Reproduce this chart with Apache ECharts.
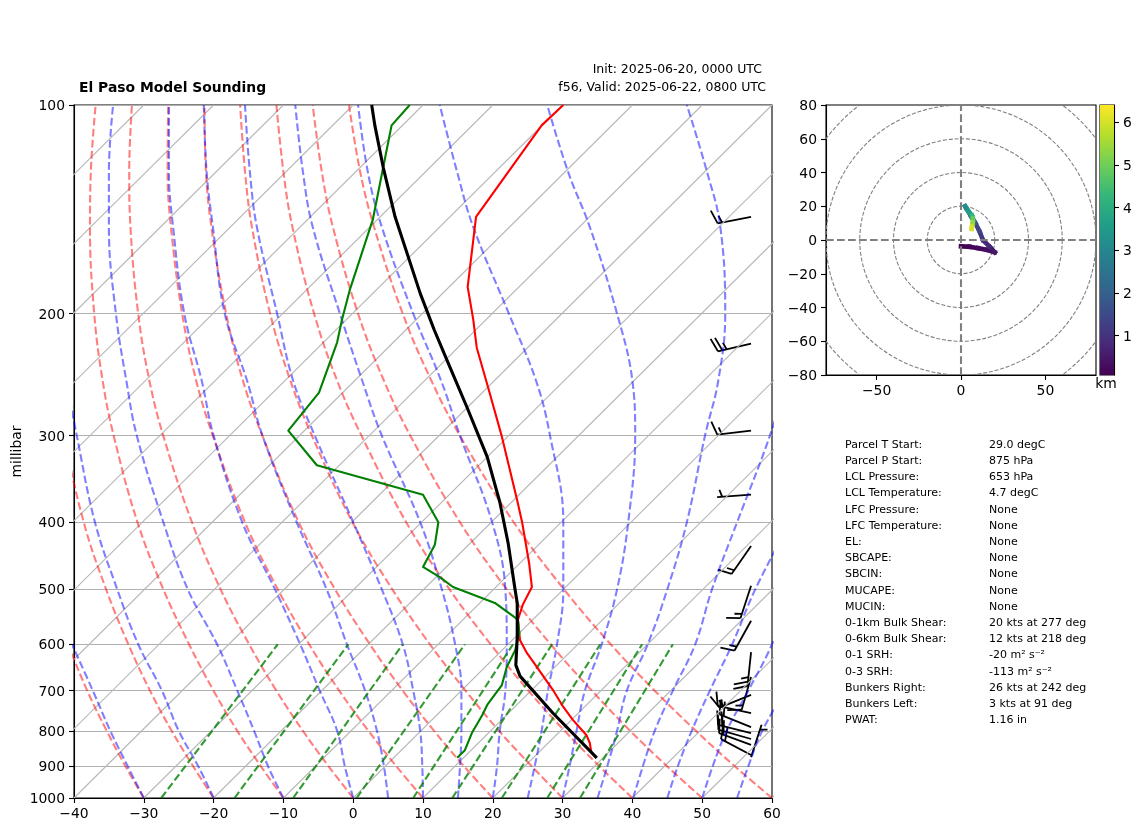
<!DOCTYPE html>
<html style="height: 100%">

<head>
  <meta charset="UTF-8" />
  <title>El Paso Model Sounding</title>
  <script src="https://cdn.jsdelivr.net/npm/echarts@6/dist/echarts.min.js"></script>
</head>

<body style="height: 100%; margin: 0; background: #fff">
  <div id="main" style="width: 1142px; height: 832px"></div>
  <script>
    const pressureTicks = [100, 200, 300, 400, 500, 600, 700, 800, 900, 1000];
    const levels = [1000, 900, 800, 700, 600, 500, 400, 300, 250, 200, 150, 125, 100];

    // isotherms, degC at 1000 hPa
    const isotherms = [-130, -120, -110, -100, -90, -80, -70, -60, -50, -40, -30, -20, -10, 0, 10, 20, 30, 40, 50, 60];

    // dry adiabats, temperature at each of levels (degC)
    const dryM30 = [-30, -37.2, -45, -53.6, -63, -73.7, -86, -100.8, -109.6, -119.6, -131.7, -139, -147.2];
    const dryM20 = [-20, -27.5, -35.7, -44.6, -54.4, -65.5, -78.4, -93.7, -102.9, -113.3, -125.9, -133.4, -142.1];
    const dryM10 = [-10, -17.8, -26.3, -35.5, -45.7, -57.3, -70.7, -86.6, -96.1, -107, -120.1, -127.9, -136.9];
    const dry0 = [0, -8.1, -16.9, -26.5, -37.1, -49.1, -62.9, -79.5, -89.4, -100.7, -114.3, -122.4, -131.7];
    const dry10 = [10, 1.6, -7.5, -17.5, -28.5, -40.9, -55.3, -72.4, -82.7, -94.4, -108.5, -116.9, -126.5];
    const dry20 = [20, 11.3, 1.9, -8.4, -19.8, -32.7, -47.6, -65.3, -76, -88.1, -102.7, -111.4, -121.3];
    const dry30 = [30, 21, 11.2, 0.6, -11.2, -24.5, -39.9, -58.2, -69.2, -81.8, -96.9, -105.8, -116.2];
    const dry40 = [40, 30.7, 20.6, 9.6, -2.5, -16.3, -32.2, -51.1, -62.5, -75.5, -91.1, -100.3, -111];
    const dry50 = [50, 40.4, 30, 18.7, 6.1, -8.1, -24.5, -44.1, -55.8, -69.2, -85.3, -94.8, -105.8];
    const dry60 = [60, 50.1, 39.4, 27.7, 14.7, 0.1, -16.8, -37, -49, -62.8, -79.4, -89.3, -100.6];
    const dryAdiabats = [dryM30, dryM20, dryM10, dry0, dry10, dry20, dry30, dry40, dry50, dry60];

    // moist adiabats, as read on the bottom axis at each of levels
    const moistM30 = [-30, -32.3, -34.8, -37.3, -40.3];
    const moistM20 = [-20, -22.2, -25, -27.4, -30.8, -33.8, -37, -39.6, -41.1];
    const moistM10 = [-10, -12.2, -14.2, -16.6, -19.5, -23.7, -27.2, -31, -32.5, -34, -35, -35, -34.4];
    const moist0 = [0, -1.2, -2.3, -4.8, -7.6, -11.2, -15.9, -20, -21.7, -24.2, -25.8, -26.4, -26.4];
    const moist5 = [5, 4.4, 3.4, 1.7, -0.9, -3.8, -8.1, -13, -15.2, -18.4, -20.1, -21, -21.4];
    const moist10 = [10, 9.9, 9.6, 8.6, 7.1, 4.1, 0, -5.5, -8.6, -10.9, -13.8, -14.8, -15.5];
    const moist15 = [15, 15.3, 15.5, 15.5, 14.6, 12.7, 9.6, 4.1, 1.3, -1.9, -5.8, -7.2, -8.3];
    const moist20 = [20, 20.6, 21, 21.8, 22, 21.8, 19.9, 15.3, 12.6, 8.6, 4.1, 2.1, 0.7];
    const moist25 = [25, 26, 27, 27.9, 29.2, 30.1, 30.1, 28.2, 26.2, 22.3, 17.2, 14.9, 12.4];
    const moist30 = [30, 31, 32, 33.2, 35.6, 37.8, 39.4, 40.4, 40, 37.8, 33.9, 30.8, 27.8];
    const moist35 = [35, 36.4, 37.8, 39.2, 42.2, 45, 47.8, 50.4, 52.3, 53.3, 52.6, 50.7, 47.8];
    const moist40 = [40.1, 41.5, 43.2, 45.8, 49, 51.4, 55, 59.7, 62];
    const moist45 = [45, 46.5, 48.5, 51.1, 54.3, 57.6, 62.6];
    const moist50 = [50, 51.5, 53.5, 56.6, 60, 63];
    const moist55 = [55, 56.6, 58.6, 61.9];
    const moistAdiabats = [moistM30, moistM20, moistM10, moist0, moist5, moist10, moist15, moist20, moist25, moist30, moist35, moist40, moist45, moist50, moist55];

    // mixing ratio lines, bottom axis reading at 1000 and 600 hPa
    const mixingBottom = [-27.5, -17, -8.6, 0.5, 8.6, 14.2, 21.3, 27.8, 32.5];
    const mixingTop = [-10.8, -0.7, 7.1, 16, 22.9, 28.5, 35.4, 41.4, 45.8];

    // sounding profiles, bottom axis reading against pressure
    const tempP = [100, 107, 145, 183, 204, 224, 255, 301, 372, 400, 458, 496, 526, 553, 592, 618, 647, 698, 739, 772, 811, 833, 858, 875];
    const tempX = [30.1, 27, 17.6, 16.4, 17.2, 17.7, 19.3, 21.3, 23.5, 24.2, 25.2, 25.6, 24.3, 23.6, 23.9, 24.9, 26.3, 28.6, 30.1, 31.5, 33.4, 33.9, 34.1, 34.8];
    const dewP = [100, 107, 123, 146.5, 185, 204, 220, 260, 295, 331, 365, 400, 431, 464, 480, 496, 523, 553, 578, 612, 647, 687, 734, 759, 806, 853, 875];
    const dewX = [8.1, 5.5, 4.3, 2.8, -0.5, -1.6, -2.3, -4.9, -9.3, -5.2, 10, 12.2, 11.7, 10, 12.4, 14.3, 20.3, 23.6, 23.8, 23.2, 22, 21.3, 19.2, 18.5, 17, 16, 14.9];
    const parcelP = [100, 107, 123, 145, 187, 211, 233, 273, 322, 374, 429, 501, 523, 586, 643, 667, 754, 875];
    const parcelX = [2.65, 3.1, 4.3, 6, 9.6, 11.6, 13.4, 16.3, 19.2, 21, 22.2, 23.2, 23.5, 23.5, 23.3, 23.9, 28.6, 34.9];

    // wind barbs
    const barbP = [145, 221, 295, 365, 433, 494, 555, 616, 669, 710, 754, 790, 806, 822, 838, 867, 873];
    const barbSpeed = [15, 25, 15, 5, 15, 15, 15, 25, 15, 15, 15, 20, 20, 20, 20, 20, 5];
    const barbDir = [259, 257, 263, 266, 215, 198, 209, 186, 196, 248, 282, 292, 284, 286, 290, 298, 18];

    // hodograph
    const hodoU = [0, 5, 10, 15, 20, 17, 13, 11, 8.5, 6, 3, 2.5, 4.5, 6.5, 7, 7, 6.5, 6.3];
    const hodoV = [-3.7, -4, -4.8, -5.8, -7.3, -4, 0, 5, 10, 14, 19, 20, 17, 14.5, 13, 10.5, 8, 6.5];
    const hodoH = [0.08, 0.15, 0.25, 0.35, 0.5, 0.8, 1.1, 1.4, 1.8, 2.3, 2.9, 3.2, 3.6, 4.2, 4.8, 5.4, 6, 6.4];
    const hodoRings = [20, 40, 60, 80, 100];
    const heightTicks = [1, 2, 3, 4, 5, 6];

    const paramNames = ['Parcel T Start:', 'Parcel P Start:', 'LCL Pressure:', 'LCL Temperature:', 'LFC Pressure:', 'LFC Temperature:', 'EL:', 'SBCAPE:', 'SBCIN:', 'MUCAPE:', 'MUCIN:', '0-1km Bulk Shear:', '0-6km Bulk Shear:', '0-1 SRH:', '0-3 SRH:', 'Bunkers Right:', 'Bunkers Left:', 'PWAT:'];
    const paramValues = ['29.0 degC', '875 hPa', '653 hPa', '4.7 degC', 'None', 'None', 'None', 'None', 'None', 'None', 'None', '20 kts at 277 deg', '12 kts at 218 deg', '-20 m\u00b2 s\u207b\u00b2', '-113 m\u00b2 s\u207b\u00b2', '26 kts at 242 deg', '3 kts at 91 deg', '1.16 in'];

    const viridis = ['#440154', '#482878', '#3e4989', '#31688e', '#26828e', '#1f9e89', '#35b779', '#6ece58', '#b5de2b', '#fde725'];
    const font = 'DejaVu Sans';
    const dash = [7.7, 3.3];
    const chart = echarts.init(document.getElementById('main'));

    const skewX = (t, p) => t + 100 * Math.log10(1000 / p);

    function backgroundLine(data, color, width, type, smooth) {
      return {
        type: 'line', data, xAxisIndex: 0, yAxisIndex: 0, showSymbol: false, silent: true,
        smooth: smooth ? 0.4 : false,
        lineStyle: { color, width, type, cap: 'butt' }
      };
    }

    function profile(xs, ps, color, width) {
      return {
        type: 'line', data: xs.map((x, i) => [x, ps[i]]), xAxisIndex: 0, yAxisIndex: 0,
        showSymbol: false, silent: true, lineStyle: { color, width, join: 'round' }
      };
    }

    // shaft runs from the tip at the level, feathers sit on the far end
    function renderBarb(params, api) {
      const tip = api.coord([api.value(0), api.value(1)]);
      const speed = api.value(2);
      const dir = api.value(3) * Math.PI / 180;
      const len = 34;
      const sx = Math.sin(dir), sy = -Math.cos(dir);
      const nx = -sy, ny = sx;
      const end = [tip[0] + sx * len, tip[1] + sy * len];
      const style = { stroke: '#000', fill: 'none', lineWidth: 1.8 };
      const children = [{ type: 'polyline', shape: { points: [tip, end] }, style }];
      let full = Math.floor(speed / 10);
      let half = speed % 10 >= 5 ? 1 : 0;
      let along = full === 0 ? 5 : 0;
      const feather = (size) => {
        const bx = end[0] - sx * along, by = end[1] - sy * along;
        children.push({
          type: 'polyline',
          shape: { points: [[bx, by], [bx + (0.95 * nx + 0.3 * sx) * size, by + (0.95 * ny + 0.3 * sy) * size]] },
          style
        });
        along += 4.5;
      };
      for (let i = 0; i < full; i++) feather(14.5);
      if (half) feather(7.5);
      return { type: 'group', children };
    }

    function renderRing(params, api) {
      const c = api.coord([0, 0]);
      return {
        type: 'circle',
        shape: { cx: c[0], cy: c[1], r: api.size([api.value(2), 0])[0] },
        style: { stroke: '#808080', fill: 'none', lineWidth: 1.1, lineDash: [4, 1.8] }
      };
    }

    function renderHodo(params, api) {
      const i = params.dataIndex;
      if (i >= hodoU.length - 1) return null;
      const a = api.coord([hodoU[i], hodoV[i]]);
      const b = api.coord([hodoU[i + 1], hodoV[i + 1]]);
      return {
        type: 'line',
        shape: { x1: a[0], y1: a[1], x2: b[0], y2: b[1] },
        style: { stroke: api.visual('color'), lineWidth: 4.6, lineCap: 'square' }
      };
    }

    function renderColorbar(params, api) {
      const a = api.coord([0, 6.4]);
      const b = api.coord([1, 0.08]);
      const stops = viridis.map((color, i) => ({ offset: 1 - i / (viridis.length - 1), color }));
      return {
        type: 'rect',
        shape: { x: a[0], y: a[1], width: b[0] - a[0], height: b[1] - a[1] },
        style: { fill: new echarts.graphic.LinearGradient(0, 0, 0, 1, stops.reverse()) }
      };
    }

    const series = [];
    isotherms.forEach((t) => {
      series.push(backgroundLine([[skewX(t, 1000), 1000], [skewX(t, 100), 100]], '#b8b8b8', 1.1, 'solid', false));
    });
    dryAdiabats.forEach((line) => {
      series.push(backgroundLine(line.map((t, i) => [skewX(t, levels[i]), levels[i]]), 'rgba(255,0,0,0.5)', 2.1, dash, true));
    });
    moistAdiabats.forEach((line) => {
      series.push(backgroundLine(line.map((x, i) => [x, levels[i]]), 'rgba(0,0,255,0.5)', 2.1, dash, true));
    });
    mixingBottom.forEach((x, i) => {
      series.push(backgroundLine([[x, 1000], [mixingTop[i], 600]], 'rgba(0,128,0,0.8)', 2.1, dash, false));
    });
    series.push(profile(tempX, tempP, '#ff0000', 2.1));
    series.push(profile(dewX, dewP, '#008000', 2.1));
    series.push(profile(parcelX, parcelP, '#000000', 3.1));
    series.push({
      type: 'custom', xAxisIndex: 0, yAxisIndex: 0, silent: true, clip: false, renderItem: renderBarb,
      encode: { x: 0, y: 1 },
      data: barbP.map((p, i) => [57, p, barbSpeed[i], barbDir[i]])
    });
    series.push({
      type: 'custom', xAxisIndex: 1, yAxisIndex: 1, silent: true, clip: true, renderItem: renderRing,
      encode: { x: 0, y: 1 },
      data: hodoRings.map((r) => [0, 0, r])
    });
    [[[-80, 0], [80, 0]], [[0, -80], [0, 80]]].forEach((data) => {
      series.push({
        type: 'line', data, xAxisIndex: 1, yAxisIndex: 1, showSymbol: false, silent: true,
        lineStyle: { color: '#808080', width: 2.1, type: dash }
      });
    });
    const hodoSeries = series.length;
    series.push({
      type: 'custom', xAxisIndex: 1, yAxisIndex: 1, silent: true, renderItem: renderHodo,
      encode: { x: 0, y: 1 },
      data: hodoU.map((u, i) => [u, hodoV[i], hodoH[i]])
    });
    series.push({
      type: 'custom', xAxisIndex: 2, yAxisIndex: 2, silent: true, renderItem: renderColorbar,
      encode: { x: 0, y: 1 }, data: [[0, 0.08]]
    });

    const axisText = { color: '#000', fontFamily: font, fontSize: 13.9 };
    const blackLine = { show: true, onZero: false, lineStyle: { color: '#000', width: 1.1 } };
    const blackTick = { show: true, length: 5, lineStyle: { color: '#000', width: 1.1 } };
    const minusSign = (v) => String(v).replace('-', '\u2212');
    // y tick labels sit a little below the tick, as in the reference
    const yLabel = { ...axisText, margin: 9, verticalAlign: 'top', padding: [-5.5, 0, 0, 0] };

    const texts = [];
    paramNames.forEach((name, i) => {
      const y = 445 + i * 16.2;
      texts.push({ type: 'text', silent: true, style: { x: 845, y, text: name, fill: '#000', font: '11px "' + font + '"', textVerticalAlign: 'middle' } });
      texts.push({ type: 'text', silent: true, style: { x: 989, y, text: paramValues[i], fill: '#000', font: '11px "' + font + '"', textVerticalAlign: 'middle' } });
    });
    texts.push({ type: 'text', silent: true, style: { x: 79, y: 88, text: 'El Paso Model Sounding', fill: '#000', font: 'bold 13.9px "' + font + '"', textVerticalAlign: 'middle' } });
    texts.push({ type: 'text', silent: true, style: { x: 762, y: 70, text: 'Init: 2025-06-20, 0000 UTC', fill: '#000', font: '12.5px "' + font + '"', textAlign: 'right', textVerticalAlign: 'middle' } });
    texts.push({ type: 'text', silent: true, style: { x: 766, y: 87.5, text: 'f56, Valid: 2025-06-22, 0800 UTC', fill: '#000', font: '12.5px "' + font + '"', textAlign: 'right', textVerticalAlign: 'middle' } });
    texts.push({ type: 'text', silent: true, style: { x: 1106, y: 384, text: 'km', fill: '#000', font: '13.9px "' + font + '"', textAlign: 'center', textVerticalAlign: 'middle' } });

    const gridBase = { show: true, borderColor: '#000', borderWidth: 1.1, backgroundColor: 'transparent', outerBoundsMode: 'none' };

    const option = {
      animation: false,
      backgroundColor: '#fff',
      textStyle: { fontFamily: font },
      grid: [
        { ...gridBase, left: 74, top: 105, width: 698, height: 693 },
        { ...gridBase, left: 826, top: 105, width: 270, height: 270 },
        { ...gridBase, left: 1100, top: 105, width: 14, height: 270 }
      ],
      xAxis: [
        {
          type: 'value', gridIndex: 0, min: -40, max: 60, interval: 10, splitLine: { show: false },
          axisLine: blackLine, axisTick: blackTick,
          axisLabel: { ...axisText, margin: 9, formatter: minusSign, showMinLabel: true, showMaxLabel: true }
        },
        {
          type: 'value', gridIndex: 1, min: -80, max: 80, splitLine: { show: false },
          axisLine: blackLine,
          axisTick: { ...blackTick, customValues: [-50, 0, 50] },
          axisLabel: { ...axisText, margin: 9, formatter: minusSign, customValues: [-50, 0, 50] }
        },
        { type: 'value', gridIndex: 2, min: 0, max: 1, show: false }
      ],
      yAxis: [
        {
          type: 'log', logBase: 10, gridIndex: 0, min: 100, max: 1000, inverse: true,
          name: 'millibar', nameLocation: 'middle', nameGap: 50, nameMoveOverlap: false, nameTextStyle: { ...axisText },
          axisLine: blackLine,
          axisTick: { ...blackTick, customValues: pressureTicks },
          axisLabel: { ...yLabel, formatter: (v) => String(v), customValues: pressureTicks },
          minorTick: { show: false },
          splitLine: { show: true, lineStyle: { color: '#b0b0b0', width: 1.1 } }
        },
        {
          type: 'value', gridIndex: 1, min: -80, max: 80, interval: 20, splitLine: { show: false },
          axisLine: blackLine, axisTick: blackTick,
          axisLabel: { ...yLabel, formatter: minusSign, showMinLabel: true, showMaxLabel: true }
        },
        {
          type: 'value', gridIndex: 2, min: 0.08, max: 6.4, position: 'right', splitLine: { show: false },
          axisLine: blackLine,
          axisTick: { ...blackTick, customValues: heightTicks },
          axisLabel: { ...yLabel, customValues: heightTicks }
        }
      ],
      visualMap: {
        show: false, type: 'continuous', seriesIndex: hodoSeries, dimension: 2,
        min: 0.08, max: 6.4, inRange: { color: viridis }
      },
      series,
      graphic: { elements: texts }
    };

    chart.setOption(option);
  </script>
</body>

</html>
